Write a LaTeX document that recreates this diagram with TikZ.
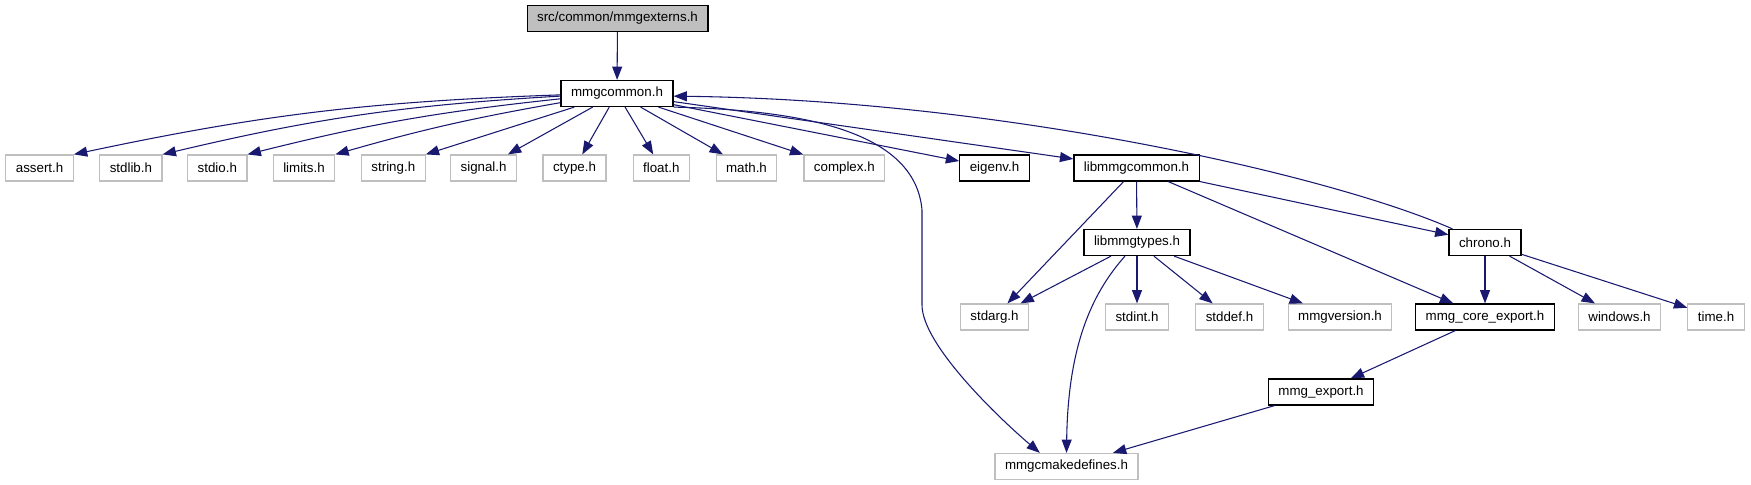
\documentclass[tikz,border=0pt]{standalone}
\usepackage{fontspec}
\setmainfont{Liberation Sans}
\usetikzlibrary{arrows.meta}
\definecolor{edgeblue}{HTML}{191970}
\definecolor{sysgrey}{HTML}{BFBFBF}

\begin{document}
\begin{tikzpicture}[
  x=0.75pt, y=-0.75pt,
  box/.style={draw, line width=0.9pt, inner xsep=7.5pt, inner ysep=0pt, minimum height=19.5pt, font=\fontsize{10}{12}\selectfont},
  sysbox/.style={box, draw=sysgrey},
  arrow/.style={-{Triangle[length=10pt,width=7.5pt]}, color=edgeblue, line width=0.8pt}
]
\useasboundingbox (0,0) rectangle (1751,485);

\node[box, fill=sysgrey] (externs) at (617.5,18.5) {src/common/mmgexterns.h};
\node[box] (common) at (617,93.5) {mmgcommon.h};

\node[sysbox] (assert) at (39.6,168) {assert.h};
\node[sysbox] (stdlib) at (130.9,168) {stdlib.h};
\node[sysbox] (stdio) at (217.3,168) {stdio.h};
\node[sysbox] (limits) at (304,168) {limits.h};
\node[sysbox] (string) at (393.3,168) {string.h};
\node[sysbox] (signal) at (483.6,168) {signal.h};
\node[sysbox] (ctype) at (574.5,168) {ctype.h};
\node[sysbox] (float) at (661.3,168) {float.h};
\node[sysbox] (math) at (746.5,168) {math.h};
\node[sysbox] (complex) at (844.3,168) {complex.h};
\node[box] (eigenv) at (994.5,168) {eigenv.h};
\node[box] (libcommon) at (1136.5,168) {libmmgcommon.h};

\node[box] (libtypes) at (1137,242.5) {libmmgtypes.h};
\node[box] (chrono) at (1485,242.5) {chrono.h};

\node[sysbox] (stdarg) at (994.5,317) {stdarg.h};
\node[sysbox] (stdint) at (1137,317) {stdint.h};
\node[sysbox] (stddef) at (1229.5,317) {stddef.h};
\node[sysbox] (mmgversion) at (1340,317) {mmgversion.h};
\node[box] (coreexport) at (1485,317) {mmg\_core\_export.h};
\node[sysbox] (windows) at (1619.5,317) {windows.h};
\node[sysbox] (time) at (1716,317) {time.h};

\node[box] (export) at (1321,392) {mmg\_export.h};
\node[sysbox] (cmake) at (1066.5,466.5) {mmgcmakedefines.h};

\draw[arrow] (externs) -- (common);
\draw[arrow] (common) to[bend right=5] (assert.north east);
\draw[arrow] (common) to[bend right=5] (stdlib.north east);
\draw[arrow] (common) to[bend right=4] (stdio.north east);
\draw[arrow] (common) to[bend right=3] (limits.north east);
\draw[arrow] (common) -- (string.north east);
\draw[arrow] (common) -- (signal);
\draw[arrow] (common) -- (ctype);
\draw[arrow] (common) -- (float);
\draw[arrow] (common) -- (math);
\draw[arrow] (common) -- (complex);
\draw[arrow] (common) -- (eigenv);
\draw[arrow] (common) -- (libcommon);
\draw[arrow] (common.south east) .. controls (800,110) and (915,130) .. (922,210)
  -- (922,305) .. controls (922,345) and (1000,419) .. ([xshift=-20pt]cmake.north);

\draw[arrow] (libcommon) -- (libtypes);
\draw[arrow] (libcommon) -- (stdarg);
\draw[arrow] (libcommon) -- (coreexport);
\draw[arrow] (libcommon) -- (chrono);

\draw[arrow] (libtypes) -- (stdarg);
\draw[arrow] (libtypes) -- (stdint);
\draw[arrow] (libtypes) -- (stddef);
\draw[arrow] (libtypes) -- (mmgversion);
\draw[arrow] ([xshift=-9pt]libtypes.south) .. controls (1095,290) and (1068,340) .. (cmake.north);

\draw[arrow] ([xshift=3pt]chrono.north west) .. controls (1330,175) and (1000,100) .. ([yshift=-2pt]common.east);
\draw[arrow] (chrono) -- (coreexport);
\draw[arrow] (chrono) -- (windows);
\draw[arrow] (chrono) -- (time);

\draw[arrow] (coreexport) -- (export);
\draw[arrow] (export) -- (cmake);
\end{tikzpicture}
\end{document}
